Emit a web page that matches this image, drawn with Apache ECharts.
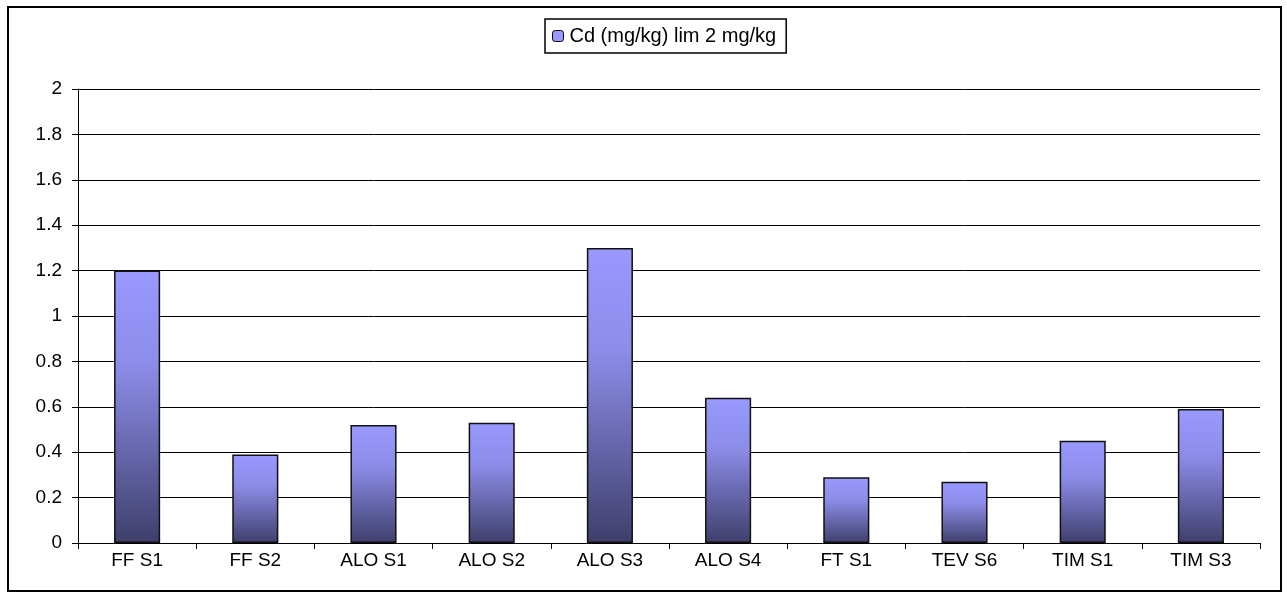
<!DOCTYPE html>
<html>
<head>
<meta charset="utf-8">
<style>
  html, body { margin: 0; padding: 0; background: #fff; }
  #chart { width: 1287px; height: 608px; }
</style>
<script src="https://cdn.jsdelivr.net/npm/echarts@6/dist/echarts.min.js"></script>
</head>
<body>
<div id="chart"></div>
<script>
const categories = ['FF S1', 'FF S2', 'ALO S1', 'ALO S2', 'ALO S3', 'ALO S4', 'FT S1', 'TEV S6', 'TIM S1', 'TIM S3'];
const seriesName = 'Cd (mg/kg) lim 2 mg/kg';
const cdValues = [1.2, 0.39, 0.52, 0.53, 1.3, 0.64, 0.29, 0.27, 0.45, 0.59];

const FONT = 'Liberation Sans, Arial, sans-serif';
const chart = echarts.init(document.getElementById('chart'), null, { renderer: 'canvas' });
chart.setOption({
  animation: false,
  backgroundColor: '#ffffff',
  graphic: [{
    type: 'rect',
    shape: { x: 8, y: 7, width: 1273, height: 584 },
    style: { fill: 'none', stroke: '#000', lineWidth: 2 },
    silent: true,
    z: 100
  }],
  legend: {
    left: 545,
    top: 19,
    data: [{ name: seriesName, itemStyle: { color: '#9999ff', borderColor: '#000', borderWidth: 1 } }],
    itemWidth: 11,
    itemHeight: 11,
    itemGap: 6,
    padding: [7, 10, 7, 7],
    borderColor: '#000',
    borderWidth: 1.5,
    textStyle: { fontFamily: FONT, fontSize: 20, color: '#000', padding: [0, 0, 0, 1] }
  },
  grid: { left: 78, right: 27, top: 89, bottom: 65, containLabel: false },
  xAxis: {
    type: 'category',
    data: categories,
    boundaryGap: true,
    axisLine: { lineStyle: { color: '#000', width: 1 } },
    axisTick: { show: true, length: 6, lineStyle: { color: '#000' } },
    axisLabel: { color: '#000', fontFamily: FONT, fontSize: 19, margin: 8 },
    splitLine: { show: false }
  },
  yAxis: {
    type: 'value',
    min: 0,
    max: 2,
    interval: 0.2,
    axisLine: { show: true, lineStyle: { color: '#000', width: 1 } },
    axisTick: { show: true, length: 6, lineStyle: { color: '#000' } },
    axisLabel: { color: '#000', fontFamily: FONT, fontSize: 19, margin: 16 },
    splitLine: { show: true, lineStyle: { color: '#000', width: 1 } }
  },
  series: [{
    name: seriesName,
    type: 'bar',
    data: cdValues,
    barWidth: '39%',
    itemStyle: {
      color: new echarts.graphic.LinearGradient(0, 0, 0, 1, [
        { offset: 0, color: '#9999ff' },
        { offset: 0.35, color: '#8c8ce8' },
        { offset: 1, color: '#3f3f6c' }
      ], false),
      borderColor: '#111',
      borderWidth: 1.5
    }
  }]
});
</script>
</body>
</html>
